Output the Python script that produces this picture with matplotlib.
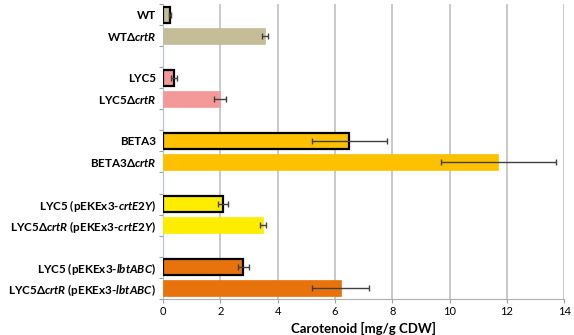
import numpy as np
import matplotlib
matplotlib.use("Agg")
import matplotlib.pyplot as plt

plt.rcParams['font.family'] = ['Lato', 'DejaVu Sans']
plt.rcParams['mathtext.fontset'] = 'custom'
plt.rcParams['mathtext.rm'] = 'Lato:bold'
plt.rcParams['mathtext.it'] = 'Lato:bold:italic'
plt.rcParams['mathtext.bf'] = 'Lato:bold'
plt.rcParams['mathtext.fallback'] = 'stix'

# strain labels, top to bottom (mathtext for the italic gene names)
labels = [
    r"WT",
    r"WT$\Delta\mathit{crtR}$",
    r"LYC5",
    r"LYC5$\Delta\mathit{crtR}$",
    r"BETA3",
    r"BETA3$\Delta\mathit{crtR}$",
    r"LYC5 (pEKEx3-$\mathit{crtE2Y}$)",
    r"LYC5$\Delta\mathit{crtR}$ (pEKEx3-$\mathit{crtE2Y}$)",
    r"LYC5 (pEKEx3-$\mathit{lbtABC}$)",
    r"LYC5$\Delta\mathit{crtR}$ (pEKEx3-$\mathit{lbtABC}$)",
]
carotenoid = [0.25, 3.56, 0.38, 2.0, 6.5, 11.7, 2.1, 3.5, 2.8, 6.2]
errors = [0.03, 0.12, 0.1, 0.21, 1.3, 2.0, 0.18, 0.1, 0.2, 1.0]
group_colors = ['#c4bd97', '#f4999a', '#ffc000', '#ffed00', '#e8730c']

fig = plt.figure(figsize=(5.74, 3.35), dpi=100)
ax = fig.add_axes([0.284, 0.108, 0.699, 0.88])

# two bars per strain group, then one empty slot
ypos = []
for g in range(len(group_colors)):
    ypos += [3 * g, 3 * g + 1]
ypos = np.array(ypos)

for i, (y, v, e) in enumerate(zip(ypos, carotenoid, errors)):
    col = group_colors[i // 2]
    parent = (i % 2 == 0)
    ax.barh(y, v, height=0.76, color=col,
            edgecolor='black' if parent else col,
            linewidth=1.6 if parent else 0.5, zorder=3)
    ax.errorbar(v, y, xerr=e, fmt='none', ecolor='#404040',
                elinewidth=1.0, capsize=2.2, capthick=1.0, zorder=4)

ax.set_xlim(0, 14)
ax.set_ylim(13.5, -0.5)
ax.set_xticks(np.arange(0, 15, 2))
ax.set_yticks(ypos)
ax.set_yticklabels(labels, fontsize=8.4, fontweight='bold')
ax.set_yticks(np.arange(-0.5, 14, 1.0), minor=True)
ax.tick_params(axis='y', which='major', length=0, pad=5)
ax.tick_params(axis='y', which='minor', length=3, color='#a0a0a0', width=0.8)
ax.tick_params(axis='x', length=3, color='#a0a0a0', labelsize=8, pad=2)

ax.grid(axis='x', color='#c0c0c0', linewidth=1.2, zorder=0)
for s in ['top', 'right']:
    ax.spines[s].set_visible(False)
ax.spines['left'].set_color('#a8c4e0')
ax.spines['bottom'].set_color('#b0b0b0')

ax.set_xlabel('Carotenoid [mg/g CDW]', fontsize=9.5, fontweight='bold', labelpad=4)

fig.savefig('out.png', dpi=100)
